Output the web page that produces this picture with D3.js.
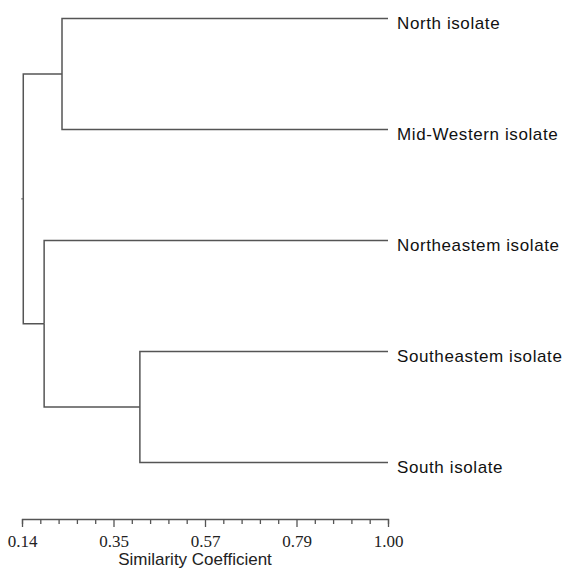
<!DOCTYPE html>
<html>
<head>
<meta charset="utf-8">
<script src="https://cdn.jsdelivr.net/npm/d3@7"></script>
<style>
  body { margin: 0; background: #fff; }
  .branch { fill: none; stroke: #555; stroke-width: 1.5; }
  .leaf-label { font-family: "Liberation Sans", Arial, sans-serif; font-size: 17px; letter-spacing: 0.6px; fill: #111; }
  .axis text { font-family: "Liberation Serif", "Times New Roman", serif; font-size: 17px; fill: #222; }
  .axis path, .axis line { stroke: #555; stroke-width: 1.3; }
</style>
</head>
<body>
<script>
// leaves, top to bottom
var leafNames = ["North isolate", "Mid-Western isolate", "Northeastem isolate", "Southeastem isolate", "South isolate"];
// merges: cluster ids 0-4 are leaves, 5.. are the merges in this order
var mergeA = [3, 0, 2, 6];
var mergeB = [4, 1, 5, 7];
var mergeSim = [0.417, 0.234, 0.192, 0.143];
// axis
var tickLabels = ["0.14", "0.35", "0.57", "0.79", "1.00"];
var axisMin = 0.14, axisMax = 1.00;

var width = 565, height = 570;
var svg = d3.select("body").append("svg")
    .attr("width", width)
    .attr("height", height);

var x = d3.scaleLinear().domain([axisMin, axisMax]).range([22, 388]);
var y = d3.scalePoint().domain(leafNames).range([18.5, 462.5]);

// nested tree uit de merges opbouwen
var clusters = leafNames.map(function(n){ return {name: n, sim: 1.0}; });
mergeA.forEach(function(a, i){
  clusters.push({name: "c" + i, sim: mergeSim[i], children: [clusters[a], clusters[mergeB[i]]]});
});
var root = d3.hierarchy(clusters[clusters.length - 1]);

// y van interne knopen = gemiddelde van kinderen
root.eachAfter(function(d){
  if (!d.children) d.py = y(d.data.name);
  else d.py = d3.mean(d.children, function(c){ return c.py; });
  d.px = x(d.data.sim);
});

var g = svg.append("g");

// elbow links
g.selectAll(".branch").data(root.links())
  .enter().append("path")
  .attr("class", "branch")
  .attr("d", function(l){
    return "M" + l.source.px + "," + l.source.py +
           "V" + l.target.py + "H" + l.target.px;
  });

// klein streepje bij de wortel
g.append("line").attr("class", "branch")
  .attr("x1", root.px - 2).attr("x2", root.px)
  .attr("y1", root.py).attr("y2", root.py)
  .style("stroke-width", 1);

// labels
g.selectAll(".leaf-label").data(root.leaves())
  .enter().append("text")
  .attr("class", "leaf-label")
  .attr("x", function(d){ return d.px + 9; })
  .attr("y", function(d){ return d.py + 10; })
  .text(function(d){ return d.data.name; });

// axis
var step = (axisMax - axisMin) / 20;
var ticks = d3.range(21).map(function(i){ return axisMin + i * step; });
var xAxis = d3.axisBottom(x)
  .tickValues(ticks)
  .tickSizeOuter(0)
  .tickSize(5)
  .tickFormat(function(d, i){ return i % 5 === 0 ? tickLabels[i / 5] : ""; });

var ax = svg.append("g").attr("class", "axis")
  .attr("transform", "translate(0,519)")
  .call(xAxis);
ax.selectAll(".tick line").attr("y2", function(d, i){ return i % 5 === 0 ? 8 : 5; });
ax.selectAll(".tick text").attr("dy", "0.71em").attr("y", 16);

svg.append("text")
  .attr("x", 195).attr("y", 565)
  .attr("text-anchor", "middle")
  .style("font-family", "Liberation Sans, Arial, sans-serif")
  .style("font-size", "17px")
  .style("fill", "#222")
  .text("Similarity Coefficient");
</script>
</body>
</html>
